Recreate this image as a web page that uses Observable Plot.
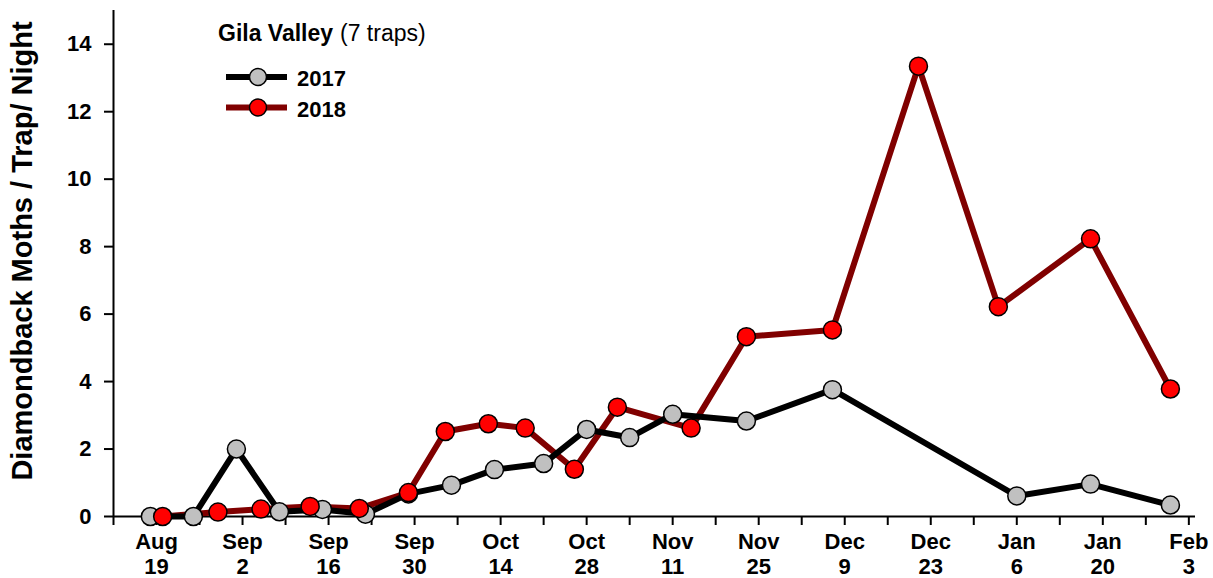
<!DOCTYPE html>
<html>
<head>
<meta charset="utf-8">
<script src="https://cdn.jsdelivr.net/npm/d3@7"></script>
<script src="https://cdn.jsdelivr.net/npm/@observablehq/plot@0.6"></script>
<style>
html, body { margin: 0; padding: 0; background: #fff; }
#chart { width: 1213px; height: 578px; }
</style>
</head>
<body>
<div id="chart"></div>
<script>
// ---- Data ----
const dates2017 = ["2017-08-18","2017-08-25","2017-09-01","2017-09-08","2017-09-15","2017-09-22","2017-09-29","2017-10-06","2017-10-13","2017-10-21","2017-10-28","2017-11-04","2017-11-11","2017-11-23","2017-12-07","2018-01-06","2018-01-18","2018-01-31"];
const values2017 = [0, 0, 2.0, 0.14, 0.21, 0.07, 0.67, 0.93, 1.39, 1.57, 2.58, 2.34, 3.03, 2.83, 3.76, 0.61, 0.96, 0.34];

const dates2018 = ["2018-08-20","2018-08-29","2018-09-05","2018-09-13","2018-09-21","2018-09-29","2018-10-05","2018-10-12","2018-10-18","2018-10-26","2018-11-02","2018-11-14","2018-11-23","2018-12-07","2018-12-21","2019-01-03","2019-01-18","2019-01-31"];
const values2018 = [0, 0.13, 0.22, 0.30, 0.24, 0.71, 2.52, 2.75, 2.62, 1.40, 3.24, 2.62, 5.33, 5.53, 13.35, 6.22, 8.23, 3.78];

const seriesNames = ["2017", "2018"];
const labelDates = ["2018-08-19","2018-09-02","2018-09-16","2018-09-30","2018-10-14","2018-10-28","2018-11-11","2018-11-25","2018-12-09","2018-12-23","2019-01-06","2019-01-20","2019-02-03"];
const labelTexts = ["Aug\n19","Sep\n2","Sep\n16","Sep\n30","Oct\n14","Oct\n28","Nov\n11","Nov\n25","Dec\n9","Dec\n23","Jan\n6","Jan\n20","Feb\n3"];
const yTicks = [0, 2, 4, 6, 8, 10, 12, 14];
const yLabel = "Diamondback Moths / Trap/ Night";
const legendTitle = "Gila Valley";
const legendSub = "(7 traps)";

// ---- Build ----
const parse = d3.utcParse("%Y-%m-%d");
// 2017 season shifted by one year onto the common season axis
const data2017 = dates2017.map((d, i) => ({series: "2017", date: d3.utcYear.offset(parse(d), 1), value: values2017[i]}));
const data2018 = dates2018.map((d, i) => ({series: "2018", date: parse(d), value: values2018[i]}));

const xStart = parse("2018-08-12");
const xEnd = new Date(Date.UTC(2019, 1, 4, 2));
const weekTicks = d3.utcSunday.range(xStart, parse("2019-02-04"));
const labelMap = new Map(labelDates.map((d, i) => [+parse(d), labelTexts[i]]));

const FONT = "'Liberation Sans', Arial, Helvetica, sans-serif";

const chart = Plot.plot({
  width: 1213,
  height: 578,
  marginLeft: 113,
  marginRight: 18,
  marginTop: 10,
  marginBottom: 62,
  style: {fontFamily: FONT, background: "white", color: "black", overflow: "visible"},
  x: {type: "utc", domain: [xStart, xEnd]},
  y: {domain: [0, 15]},
  marks: [
    Plot.axisY({ticks: yTicks, tickSize: 9, tickPadding: 13, strokeWidth: 2, fontSize: 22, fontWeight: "bold", label: null}),
    Plot.axisX({ticks: weekTicks, tickSize: 9, tickPadding: 6, strokeWidth: 2, fontSize: 22, fontWeight: "bold", lineHeight: 1.12,
      tickFormat: d => labelMap.get(+d) ?? "", label: null}),
    Plot.ruleY([0], {stroke: "black", strokeWidth: 2}),
    Plot.ruleX([xStart], {stroke: "black", strokeWidth: 2}),
    Plot.text([yLabel], {frameAnchor: "left", text: d => d, rotate: -90, textAnchor: "middle", dx: -91, dy: -12.5, fontSize: 29, fontWeight: "bold", fill: "black"}),
    Plot.line(data2018, {x: "date", y: "value", stroke: "#800000", strokeWidth: 6, curve: "linear"}),
    Plot.line(data2017, {x: "date", y: "value", stroke: "black", strokeWidth: 6, curve: "linear"}),
    Plot.dot(data2017, {x: "date", y: "value", r: 9, fill: "#c0c0c0", stroke: "black", strokeWidth: 1.5}),
    Plot.dot(data2018, {x: "date", y: "value", r: 9, fill: "#ff0000", stroke: "black", strokeWidth: 1.5})
  ]
});
document.getElementById("chart").appendChild(chart);

// ---- Legend (inside the SVG) ----
const svg = d3.select(chart);
const lg = svg.append("g").attr("font-family", FONT).attr("text-anchor", "start");
lg.append("text").attr("x", 218).attr("y", 41).attr("font-size", 23).attr("font-weight", "bold")
  .attr("fill", "black").attr("text-anchor", "start").text(legendTitle);
lg.append("text").attr("x", 340).attr("y", 41).attr("font-size", 23).attr("font-weight", "normal")
  .attr("fill", "black").attr("text-anchor", "start").text(legendSub);
const legendItems = [
  {name: seriesNames[0], stroke: "black", fill: "#c0c0c0", y: 77},
  {name: seriesNames[1], stroke: "#800000", fill: "#ff0000", y: 107.5}
];
legendItems.forEach(it => {
  lg.append("line").attr("x1", 226).attr("x2", 287).attr("y1", it.y).attr("y2", it.y)
    .attr("stroke", it.stroke).attr("stroke-width", 6);
  lg.append("circle").attr("cx", 258).attr("cy", it.y).attr("r", 8.5)
    .attr("fill", it.fill).attr("stroke", "black").attr("stroke-width", 1.5);
  lg.append("text").attr("x", 297).attr("y", it.y + 9).attr("font-size", 22).attr("font-weight", "bold")
    .attr("fill", "black").attr("text-anchor", "start").text(it.name);
});
</script>
</body>
</html>
